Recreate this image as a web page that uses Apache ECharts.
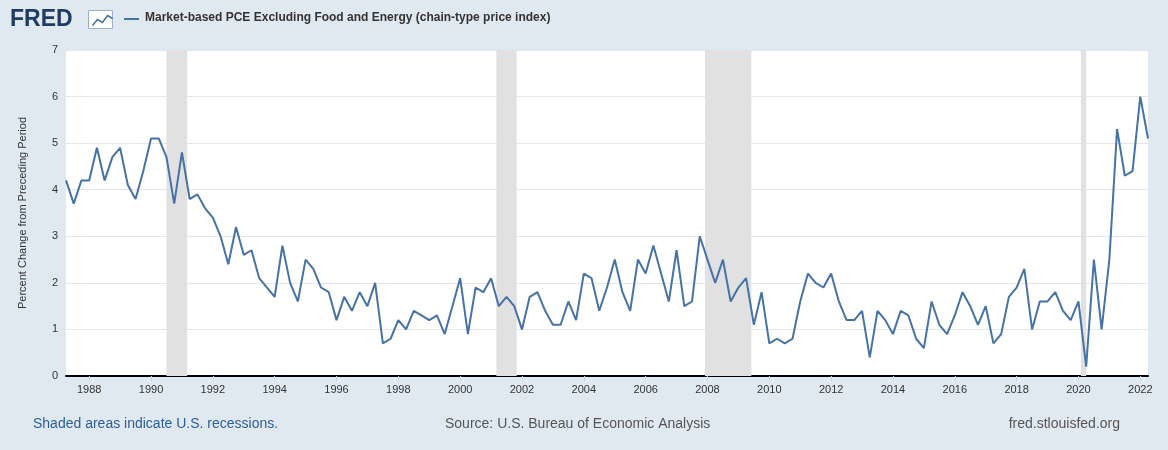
<!DOCTYPE html>
<html lang="en">
<head>
<meta charset="UTF-8">
<title>Market-based PCE Excluding Food and Energy</title>
<script src="https://cdn.jsdelivr.net/npm/echarts@6/dist/echarts.min.js"></script>
<style>
  html, body { margin: 0; padding: 0; background: #e1e9f0; }
  #chart { width: 1168px; height: 450px; }
</style>
</head>
<body>
<div id="chart"></div>
<script>
// quarterly, first point 1987 Q2
const startYear = 1987;
const startQuarter = 2;
const pceValues = [
  4.2, 3.7, 4.2,
  4.2, 4.9, 4.2, 4.7,
  4.9, 4.1, 3.8, 4.4,
  5.1, 5.1, 4.7, 3.7,
  4.8, 3.8, 3.9, 3.6,
  3.4, 3.0, 2.4, 3.2,
  2.6, 2.7, 2.1, 1.9,
  1.7, 2.8, 2.0, 1.6,
  2.5, 2.3, 1.9, 1.8,
  1.2, 1.7, 1.4, 1.8,
  1.5, 2.0, 0.7, 0.8,
  1.2, 1.0, 1.4, 1.3,
  1.2, 1.3, 0.9, 1.5,
  2.1, 0.9, 1.9, 1.8,
  2.1, 1.5, 1.7, 1.5,
  1.0, 1.7, 1.8, 1.4,
  1.1, 1.1, 1.6, 1.2,
  2.2, 2.1, 1.4, 1.9,
  2.5, 1.8, 1.4, 2.5,
  2.2, 2.8, 2.2, 1.6,
  2.7, 1.5, 1.6, 3.0,
  2.5, 2.0, 2.5, 1.6,
  1.9, 2.1, 1.1, 1.8,
  0.7, 0.8, 0.7, 0.8,
  1.6, 2.2, 2.0, 1.9,
  2.2, 1.6, 1.2, 1.2,
  1.4, 0.4, 1.4, 1.2,
  0.9, 1.4, 1.3, 0.8,
  0.6, 1.6, 1.1, 0.9,
  1.3, 1.8, 1.5, 1.1,
  1.5, 0.7, 0.9, 1.7,
  1.9, 2.3, 1.0, 1.6,
  1.6, 1.8, 1.4, 1.2,
  1.6, 0.2, 2.5, 1.0,
  2.5, 5.3, 4.3, 4.4,
  6.0, 5.1
];
const yearTicks = [1988, 1990, 1992, 1994, 1996, 1998, 2000, 2002, 2004, 2006, 2008, 2010,
                   2012, 2014, 2016, 2018, 2020, 2022];
const recessions = [[1990.5, 1991.17], [2001.17, 2001.83], [2007.92, 2009.42], [2020.08, 2020.25]];

const t0 = startYear + (startQuarter - 1) / 4;
const seriesData = pceValues.map((v, i) => [t0 + i * 0.25, v]);
const tEnd = seriesData[seriesData.length - 1][0];

const chart = echarts.init(document.getElementById('chart'));
chart.setOption({
  backgroundColor: '#e1e9f0',
  animation: false,
  grid: { left: 66, right: 20, top: 50, bottom: 74, show: true, backgroundColor: '#fff', borderWidth: 0 },
  graphic: [
    { type: 'text', left: 10, top: 8, style: { text: 'FRED', font: 'bold 23px "Liberation Sans", Arial', fill: '#1f3d63' } },
    { type: 'rect', left: 88, top: 10, shape: { width: 24, height: 18 }, style: { fill: '#fff', stroke: '#9cb1c7' } },
    { type: 'polyline', left: 90, top: 13, shape: { points: [[0, 12], [5, 6], [10, 9], [15, 2], [20, 5]] }, style: { stroke: '#4572a7', lineWidth: 1.5, fill: null } },
    { type: 'line', shape: { x1: 124, y1: 19, x2: 139, y2: 19 }, style: { stroke: '#4572a7', lineWidth: 2 } },
    { type: 'text', left: 145, top: 12, style: { text: 'Market-based PCE Excluding Food and Energy (chain-type price index)', font: 'bold 12px "Liberation Sans", Arial', fill: '#333' } },
    { type: 'text', left: 33, top: 417, style: { text: 'Shaded areas indicate U.S. recessions.', font: '14px "Liberation Sans", Arial', fill: '#2b5e9e' } },
    { type: 'text', left: 445, top: 417, style: { text: 'Source: U.S. Bureau of Economic Analysis', font: '14px "Liberation Sans", Arial', fill: '#555' } },
    { type: 'text', right: 48, top: 417, style: { text: 'fred.stlouisfed.org', font: '14px "Liberation Sans", Arial', fill: '#555' } }
  ],
  xAxis: {
    type: 'value',
    min: t0,
    max: tEnd,
    axisLine: { show: true, onZero: false, lineStyle: { color: '#000', width: 2 } },
    axisTick: { show: true, customValues: yearTicks, length: 5, lineStyle: { color: '#c6d2e0' } },
    axisLabel: { customValues: yearTicks, formatter: v => String(Math.round(v)), color: '#333', fontSize: 11, margin: 8, fontFamily: 'Liberation Sans' },
    splitLine: { show: false }
  },
  yAxis: {
    type: 'value',
    min: 0,
    max: 7,
    interval: 1,
    name: 'Percent Change from Preceding Period',
    nameLocation: 'middle',
    nameGap: 38,
    nameTextStyle: { color: '#333', fontSize: 11, fontFamily: 'Liberation Sans' },
    axisLabel: { color: '#333', fontSize: 11, fontFamily: 'Liberation Sans' },
    axisLine: { show: false },
    axisTick: { show: false },
    splitLine: { lineStyle: { color: '#e6e6e6' } }
  },
  series: [{
    type: 'line',
    data: seriesData,
    showSymbol: false,
    lineStyle: { color: '#4572a7', width: 2 },
    itemStyle: { color: '#4572a7' },
    markArea: {
      silent: true,
      itemStyle: { color: '#e1e1e1' },
      data: recessions.map(r => [{ xAxis: r[0] }, { xAxis: r[1] }])
    },
    z: 3
  }]
});
</script>
</body>
</html>
